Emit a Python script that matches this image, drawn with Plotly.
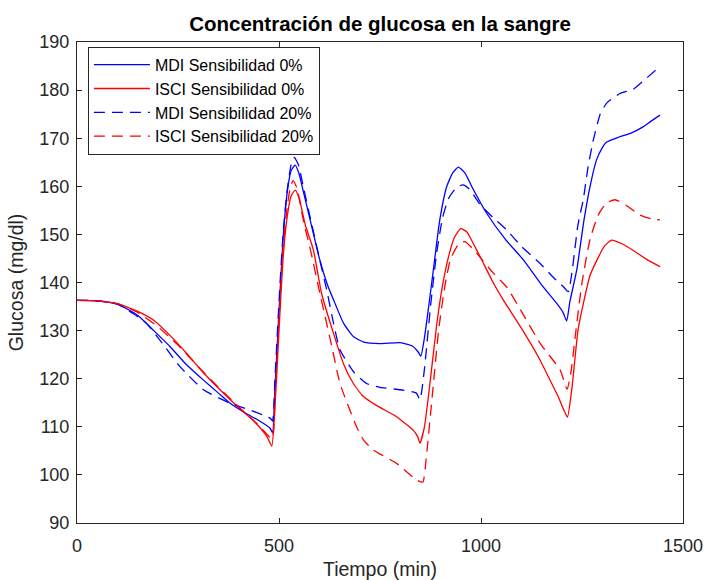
import plotly.graph_objects as go

# ---- data (time in min, glucose in mg/dl) ----
t_mdi0 = [0, 50, 100, 150, 190, 230, 270, 313, 350, 379, 420, 450, 478, 484,
          490, 500, 510, 520, 530, 540, 550, 560, 580, 600, 620, 635, 660, 685, 710, 750, 800, 830, 845, 851,
          860, 872, 882, 898, 915, 930, 944, 960, 980, 1014, 1060, 1105, 1150, 1187, 1203, 1212,
          1220, 1237, 1255, 1270, 1286, 1300, 1311, 1340, 1370, 1400, 1420, 1443]
g_mdi0 = [136.3, 136.2, 135.5, 133.2, 130.0, 126.7, 123.0, 119.7, 117.0, 114.9, 112.7, 111.3, 109.7, 108.8,
          118.0, 134.0, 149.0, 158.5, 163.3, 164.4, 162.5, 159.0, 152.0, 145.0, 139.5, 136.4, 131.5, 128.7, 127.6, 127.3, 127.5, 126.8, 125.5, 124.7,
          128.5, 136.0, 142.6, 153.0, 159.9, 162.8, 164.0, 162.8, 159.5, 154.4, 149.0, 144.7, 139.5, 135.7, 133.8, 132.0,
          136.0, 142.6, 153.0, 160.0, 165.5, 168.0, 169.2, 170.2, 171.0, 172.3, 173.5, 174.8]

t_isci0 = [0, 50, 100, 150, 189, 230, 271, 310, 354, 400, 440, 470, 482,
           490, 500, 510, 520, 530, 540, 550, 565, 585, 606, 635, 660, 684, 709, 740, 791, 832, 843, 849,
           860, 875, 890, 905, 920, 935, 950, 965, 981, 1000, 1030, 1055, 1100, 1146, 1175, 1191, 1205, 1214,
           1225, 1240, 1253, 1270, 1286, 1305, 1323, 1350, 1380, 1410, 1443]
g_isci0 = [136.3, 136.2, 135.6, 134.0, 132.2, 129.0, 125.3, 121.5, 117.7, 114.0, 111.0, 108.0, 106.0,
           114.0, 130.0, 145.0, 153.5, 158.0, 159.2, 157.5, 152.0, 146.8, 137.5, 129.4, 123.0, 119.0, 116.3, 114.5, 112.1, 109.3, 108.0, 106.6,
           110.0, 120.0, 131.0, 139.5, 145.5, 149.5, 151.2, 150.5, 148.1, 145.0, 140.0, 136.4, 130.5, 123.9, 119.0, 116.3, 113.5, 112.0,
           118.0, 130.0, 135.5, 141.5, 144.5, 147.5, 148.8, 148.0, 146.5, 144.8, 143.3]

t_mdi20 = [0, 50, 100, 140, 172, 210, 255, 313, 379, 428, 478, 484,
           490, 500, 510, 520, 530, 538, 548, 560, 580, 600, 618, 635, 651, 684, 717, 750, 800, 840, 849,
           860, 875, 890, 905, 920, 940, 955, 970, 1000, 1030, 1064, 1100, 1146, 1180, 1204, 1216,
           1225, 1240, 1253, 1265, 1278, 1295, 1311, 1344, 1377, 1410, 1443]
g_mdi20 = [136.3, 136.2, 135.5, 133.5, 131.5, 127.5, 122.5, 117.7, 114.9, 113.5, 111.8, 111.2,
           120.0, 136.0, 150.0, 159.0, 164.5, 166.0, 164.5, 160.0, 152.5, 145.0, 138.5, 131.5, 126.0, 121.5, 119.0, 118.2, 117.7, 117.0, 115.6,
           122.0, 135.0, 146.0, 153.5, 157.5, 159.8, 160.3, 159.5, 156.0, 153.5, 150.9, 147.5, 144.0, 141.0, 139.1, 138.1,
           142.0, 152.0, 157.2, 164.0, 169.6, 175.0, 177.3, 179.3, 180.2, 182.5, 184.9]

t_isci20 = [0, 50, 100, 150, 200, 250, 300, 350, 400, 450, 483,
            490, 500, 510, 520, 528, 535, 545, 560, 580, 601, 630, 651, 692, 709, 733, 791, 841, 856,
            865, 880, 895, 910, 925, 945, 960, 980, 1000, 1030, 1064, 1100, 1146, 1196, 1213,
            1222, 1235, 1250, 1270, 1290, 1310, 1332, 1360, 1394, 1420, 1443]
g_isci20 = [136.3, 136.2, 135.6, 133.8, 130.8, 127.0, 122.5, 118.2, 114.2, 110.3, 107.5,
            116.0, 132.0, 147.0, 155.5, 159.8, 161.2, 159.5, 153.0, 146.0, 137.8, 127.0, 119.0, 110.0, 107.3, 105.2, 102.4, 98.9, 98.5,
            104.0, 117.0, 130.0, 139.0, 145.0, 148.0, 148.5, 147.0, 145.0, 142.0, 139.0, 134.0, 127.4, 121.8, 117.8,
            121.0, 130.0, 140.0, 149.0, 154.0, 156.5, 157.2, 156.0, 154.0, 153.3, 153.0]

names = ["MDI Sensibilidad 0%", "ISCI Sensibilidad 0%", "MDI Sensibilidad 20%", "ISCI Sensibilidad 20%"]
x_ticks = [0, 500, 1000, 1500]
y_ticks = list(range(90, 191, 10))

series = [
    (t_mdi0, g_mdi0, "#0000FF", "solid"),
    (t_isci0, g_isci0, "#FF0000", "solid"),
    (t_mdi20, g_mdi20, "#0000FF", "11px,7px"),
    (t_isci20, g_isci20, "#FF0000", "11px,7px"),
]

fig = go.Figure()
for (tx, gy, col, dash), nm in zip(series, names):
    fig.add_trace(go.Scatter(x=tx, y=gy, mode="lines", name=nm,
                             line=dict(color=col, width=1.3, dash=dash, shape="spline", smoothing=0.5)))

axcol = "#262626"
font = "Liberation Sans, Arial, Helvetica, sans-serif"
fig.update_layout(
    width=704, height=580,
    margin=dict(l=77, r=21, t=42, b=57, autoexpand=False),
    paper_bgcolor="white", plot_bgcolor="white",
    font=dict(family=font, size=18, color=axcol),
    title=dict(text="<b>Concentración de glucosa en la sangre</b>", x=0.5, xref="paper", xanchor="center",
               y=1, yref="paper", yanchor="bottom", pad=dict(b=11),
               font=dict(family=font, size=20.5, color="black")),
    showlegend=True,
    legend=dict(x=0.018, y=0.99, xanchor="left", yanchor="top",
                bgcolor="white", bordercolor=axcol, borderwidth=1,
                font=dict(family=font, size=16, color="black"),
                tracegroupgap=0, itemwidth=56),
)
fig.update_xaxes(range=[0, 1500], tickvals=x_ticks, ticks="inside", ticklen=5, tickcolor=axcol,
                 showline=True, linecolor=axcol, linewidth=1, mirror="ticks", showgrid=False, zeroline=False,
                 automargin=False, ticklabelstandoff=6,
                 title=dict(text="Tiempo (min)", font=dict(size=19.5, color=axcol), standoff=12),
                 tickfont=dict(size=18, color=axcol))
fig.update_yaxes(range=[90, 190], tickvals=y_ticks, ticks="inside", ticklen=5, tickcolor=axcol,
                 showline=True, linecolor=axcol, linewidth=1, mirror="ticks", showgrid=False, zeroline=False,
                 automargin=False, ticklabelstandoff=3,
                 title=dict(text="Glucosa (mg/dl)", font=dict(size=19.5, color=axcol), standoff=10),
                 tickfont=dict(size=18, color=axcol))

fig.write_html("out.html")
